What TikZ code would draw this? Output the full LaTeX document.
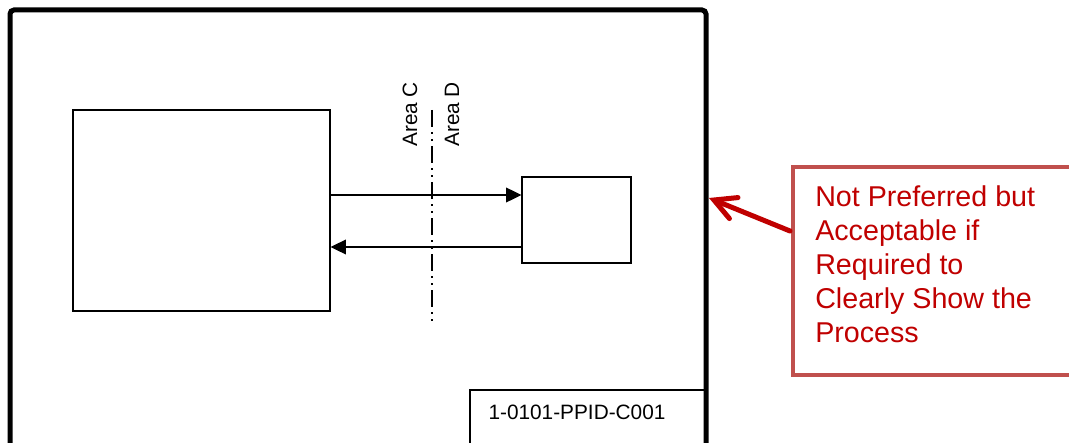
\documentclass[tikz,border=0pt]{standalone}
\usepackage{fontspec}
\setmainfont{Liberation Sans}
\usetikzlibrary{arrows.meta,fit}
\definecolor{calloutred}{HTML}{C0504D}
\definecolor{textred}{HTML}{C00000}
\tikzset{
  thinbox/.style={draw=black, line width=0.9pt, inner sep=0pt},
  flowarrow/.style={line width=1.3pt, -{Triangle[length=11.5pt,width=11pt]}},
  arealabel/.style={rotate=90, anchor=west, inner sep=0pt, font=\fontsize{15.6}{18}\selectfont},
  boundary/.style={line width=1.5pt, dash pattern=on 12.75pt off 3.75pt on 1.5pt off 3.75pt on 1.5pt off 3.75pt},
  calloutarrow/.style={draw=textred, line width=3.75pt, -{Straight Barb[length=16pt,width=17pt,line cap=round]}, line cap=round}
}
\begin{document}
\begin{tikzpicture}[x=0.75pt,y=-0.75pt]
\useasboundingbox (0,0) rectangle (1069,442);
\clip (0,0) rectangle (1069,442);
\fill[white] (0,0) rectangle (1069,442);
% outer frame
\node (frame) [fit={(10,10)(706,480)}, draw=black, line width=3.75pt, rounded corners=3pt, inner sep=0pt] {};
% id box
\node (idbox) [fit={(470,390)(705,480)}, thinbox] {};
\node (idtext) at (577,412) [font=\fontsize{15.6}{18}\selectfont, inner sep=0pt] {1-0101-PPID-C001};
% process boxes
\node (L) [fit={(73,110)(330,311)}, thinbox] {};
\node (R) [fit={(522,177)(631,263)}, thinbox] {};
\draw[flowarrow] (L.east |- 0,195) -- (R.west |- 0,195);
\draw[flowarrow] (R.west |- 0,247) -- (L.east |- 0,247);
% area boundary
\coordinate (btop) at (432,110);
\coordinate (bbot) at (432,323);
\draw[boundary] (btop) -- (bbot);
\node (areaC) [arealabel] at (410,147) {Area C};
\node (areaD) [arealabel] at (452,147) {Area D};
% callout
\node (callout) [fit={(793,167)(1110,375)}, draw=calloutred, line width=3pt, fill=white, inner sep=0pt] {};
\node (note) [anchor=north west, align=left, text=textred, inner sep=0pt, font=\fontsize{21.5}{25.5}\selectfont] at (815,185) {Not Preferred but\\Acceptable if\\Required to\\Clearly Show the\\Process};
\coordinate (tail) at (790,231);
\coordinate (tip) at (709,198);
\draw[calloutarrow] (tail) -- (tip);
\end{tikzpicture}
\end{document}
